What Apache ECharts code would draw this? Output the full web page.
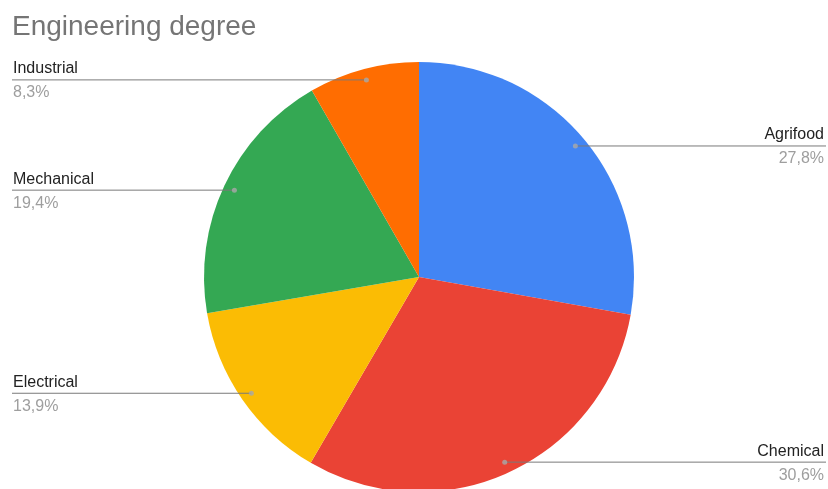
<!DOCTYPE html>
<html>
<head>
<meta charset="utf-8">
<script src="https://cdn.jsdelivr.net/npm/echarts@6/dist/echarts.min.js"></script>
<style>
  html, body { margin: 0; padding: 0; background: #fff; }
  #chart { width: 828px; height: 489px; }
</style>
</head>
<body>
<div id="chart"></div>
<script>
// Engineering degree: share of students per specialty (percent)
const categories = ['Agrifood', 'Chemical', 'Electrical', 'Mechanical', 'Industrial'];
const shares = [27.8, 30.6, 13.9, 19.4, 8.3];
const colors = ['#4285F4', '#EA4335', '#FBBC04', '#34A853', '#FF6D01'];

const chart = echarts.init(document.getElementById('chart'), null, { renderer: 'canvas' });

const WIDTH = 828;
const CENTER = [419, 277];
const RADIUS = 215;       // pie radius
const DOT_RADIUS = 204;   // where the leader lines start, inside each slice
const FONT = 'Liberation Sans, Arial, sans-serif';

const total = shares.reduce((a, b) => a + b, 0);
const fmtPct = v => v.toFixed(1).replace('.', ',') + '%';

// mid value of each slice along the circle, for the leader-line dots
let running = 0;
const midpoints = shares.map(v => { const m = running + v / 2; running += v; return m; });

const pieData = categories.map((name, i) => ({
  name: name,
  value: shares[i],
  itemStyle: { color: colors[i] }
}));

const option = {
  animation: false,
  title: {
    text: 'Engineering degree',
    left: 12,
    top: 13,
    padding: 0,
    textStyle: { fontFamily: FONT, fontSize: 28, fontWeight: 'normal', color: '#757575' }
  },
  polar: { center: CENTER, radius: DOT_RADIUS },
  angleAxis: { type: 'value', min: 0, max: total, startAngle: 90, clockwise: true, show: false },
  radiusAxis: { type: 'value', min: 0, max: 1, show: false },
  series: [
    {
      type: 'pie',
      center: CENTER,
      radius: RADIUS,
      silent: true,
      data: pieData,
      label: { show: false },
      labelLine: { show: false }
    },
    {
      // invisible inner ring that carries the labels and leader lines
      type: 'pie',
      center: CENTER,
      radius: DOT_RADIUS,
      silent: true,
      z: 3,
      data: pieData.map(d => ({ name: d.name, value: d.value })),
      itemStyle: { color: 'rgba(0,0,0,0)' },
      label: {
        show: true,
        position: 'outside',
        formatter: p => '{n|' + p.name + '}\n{p|' + fmtPct(p.value) + '}',
        rich: {
          n: { fontFamily: FONT, fontSize: 16, color: '#222222', lineHeight: 26 },
          p: { fontFamily: FONT, fontSize: 16, color: '#9e9e9e', lineHeight: 22 }
        }
      },
      labelLine: { show: true, length: 0, length2: 10, lineStyle: { color: '#7a7a7a', width: 1 } },
      labelLayout: function (params) {
        const pts = params.labelLinePoints;
        if (!pts) { return {}; }
        const x0 = pts[0][0], y0 = pts[0][1];
        const onLeft = x0 < CENTER[0];
        return {
          x: onLeft ? 13 : WIDTH - 4,
          y: y0,
          align: onLeft ? 'left' : 'right',
          verticalAlign: 'middle',
          labelLinePoints: [[x0, y0], [onLeft ? 12 : WIDTH - 2, y0]]
        };
      }
    },
    {
      type: 'scatter',
      coordinateSystem: 'polar',
      silent: true,
      z: 10,
      symbolSize: 5,
      itemStyle: { color: '#a9a9a9' },
      data: midpoints.map(m => [1, m])
    }
  ]
};

chart.setOption(option);
</script>
</body>
</html>
